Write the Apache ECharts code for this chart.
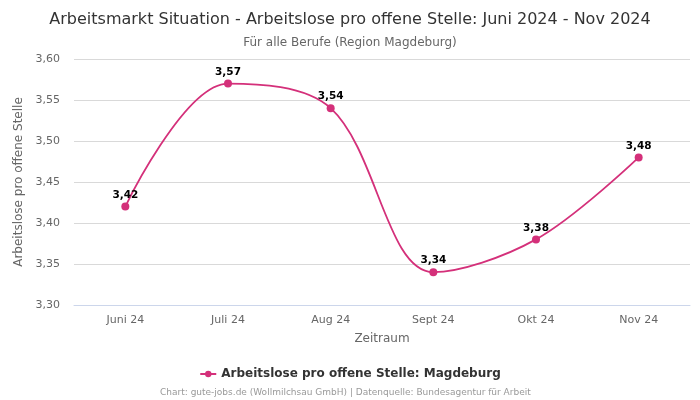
<!DOCTYPE html>
<html><head><meta charset="utf-8">
<script src="https://cdn.jsdelivr.net/npm/echarts@6/dist/echarts.min.js"></script>
<style>html,body{margin:0;padding:0;background:#fff}#c{width:700px;height:400px}</style>
</head><body><div id="c"></div>
<script>
var categories = ["Juni 24", "Juli 24", "Aug 24", "Sept 24", "Okt 24", "Nov 24"];
var values = [3.42, 3.57, 3.54, 3.34, 3.38, 3.48];
var seriesName = "Arbeitslose pro offene Stelle: Magdeburg";
var FONT = "DejaVu Sans";
var chart = echarts.init(document.getElementById('c'));
function fmt(v){ return v.toFixed(2).replace('.', ','); }
chart.setOption({
  animation: false,
  textStyle: { fontFamily: FONT },
  title: [
    { text: "Arbeitsmarkt Situation - Arbeitslose pro offene Stelle: Juni 2024 - Nov 2024",
      left: 'center', top: 7, textStyle: { fontFamily: FONT, fontSize: 16, fontWeight: 'normal', color: '#333' } },
    { text: "Für alle Berufe (Region Magdeburg)", left: 'center', top: 32,
      textStyle: { fontFamily: FONT, fontSize: 12, fontWeight: 'normal', color: '#666' } },
    { text: "Chart: gute-jobs.de (Wollmilchsau GmbH) | Datenquelle: Bundesagentur für Arbeit", left: 155, top: 383,
      textStyle: { fontFamily: FONT, fontSize: 9, fontWeight: 'normal', color: '#999' } }
  ],
  legend: {
    top: 363, left: 'center', itemWidth: 16, itemHeight: 8, itemGap: 5,
    textStyle: { fontFamily: FONT, fontSize: 12, fontWeight: 'bold', color: '#333' },
    data: [{ name: seriesName }]
  },
  grid: { left: 74, right: 10, top: 59, bottom: 95 },
  xAxis: {
    type: 'category', data: categories, boundaryGap: true,
    name: 'Zeitraum', nameLocation: 'middle', nameGap: 28,
    nameTextStyle: { fontFamily: FONT, fontSize: 12, color: '#666' },
    axisLine: { lineStyle: { color: '#ccd6eb' } },
    axisTick: { show: false },
    axisLabel: { fontFamily: FONT, fontSize: 11, color: '#666', margin: 10 }
  },
  yAxis: {
    type: 'value', min: 3.30, max: 3.60, interval: 0.05,
    name: 'Arbeitslose pro offene Stelle', nameLocation: 'middle', nameGap: 44,
    nameTextStyle: { fontFamily: FONT, fontSize: 12, color: '#666' },
    axisLine: { show: false }, axisTick: { show: false },
    splitLine: { lineStyle: { color: '#d9d9d9' } },
    axisLabel: { fontFamily: FONT, fontSize: 11, color: '#666', margin: 14, formatter: function(v){ return fmt(v); } }
  },
  series: [{
    name: seriesName, type: 'line', data: values, smooth: 0.35,
    symbol: 'circle', symbolSize: 8,
    itemStyle: { color: '#d4307a' },
    lineStyle: { color: '#d4307a', width: 1.8 },
    label: { show: true, position: 'top', distance: 2, fontFamily: FONT, fontSize: 10.5, fontWeight: 'bold', color: '#000',
      formatter: function(p){ return fmt(p.value); } }
  }]
});
</script></body></html>
